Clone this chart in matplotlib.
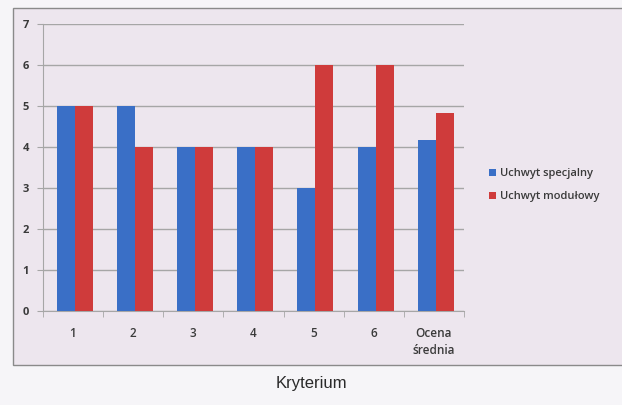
import matplotlib
matplotlib.use("Agg")
import matplotlib.pyplot as plt
import numpy as np
from matplotlib.patches import Rectangle

categories = ["1", "2", "3", "4", "5", "6", "Ocena\nśrednia"]
specjalny = [5, 5, 4, 4, 3, 4, 4.17]
modulowy = [5, 4, 4, 4, 6, 6, 4.83]
series_names = ["Uchwyt specjalny", "Uchwyt modułowy"]
y_ticks = [0, 1, 2, 3, 4, 5, 6, 7]

blue = "#3A6FC6"
red = "#CF3B3B"
bg = "#EDE6EE"
txt = "#3A3A3A"
grid = "#A6A6A6"
font = ["Open Sans", "DejaVu Sans"]

fig = plt.figure(figsize=(6.22, 4.05), dpi=100)
fig.patch.set_facecolor("#F6F5F8")
fig.patches.append(Rectangle((0.021, 0.099), 0.985, 0.881, transform=fig.transFigure,
                             facecolor=bg, edgecolor="#8A8A8A", linewidth=1.0, zorder=-5))

ax = fig.add_axes([0.069, 0.231, 0.677, 0.7086])
ax.set_zorder(2)
ax.set_facecolor("none")
x = np.arange(len(categories))
w = 0.3
ax.bar(x - w / 2 + 0.03, specjalny, w, color=blue, label=series_names[0], zorder=3)
ax.bar(x + w / 2 + 0.03, modulowy, w, color=red, label=series_names[1], zorder=3)

ax.set_xlim(-0.5, len(categories) - 0.5)
ax.set_ylim(0, 7)
ax.set_yticks(y_ticks)
ax.set_yticklabels([str(t) for t in y_ticks], fontfamily=font, fontsize=8, color=txt, fontweight="bold")
ax.yaxis.grid(True, color=grid, linewidth=1)
ax.set_axisbelow(True)
ax.set_xticks(x)
ax.set_xticklabels(categories, fontfamily=font, fontsize=8.5, color=txt, fontweight="semibold", linespacing=1.45)
ax.set_xticks(np.arange(-0.5, len(categories) + 0.5, 1), minor=True)
ax.tick_params(axis="x", which="major", length=0, pad=11)
ax.tick_params(axis="x", which="minor", length=4, color=grid)
ax.tick_params(axis="y", length=4, color=grid, pad=6)
for s in ["top", "right"]:
    ax.spines[s].set_visible(False)
ax.spines["left"].set_color(grid)
ax.spines["bottom"].set_color(grid)

leg = fig.legend(loc="center left", bbox_to_anchor=(0.77, 0.543), frameon=False,
                 prop={"family": font, "size": 8, "weight": "semibold"},
                 handlelength=0.6, handleheight=0.6, handletextpad=0.4, labelspacing=1.1)
leg.set_zorder(3)
for t in leg.get_texts():
    t.set_color(txt)

fig.text(0.5, 0.053, "Kryterium", ha="center", va="center", fontsize=12,
         family=["Liberation Sans", "DejaVu Sans"], color="#2A2A2A")

fig.savefig("out.png", dpi=100, facecolor=fig.get_facecolor())
